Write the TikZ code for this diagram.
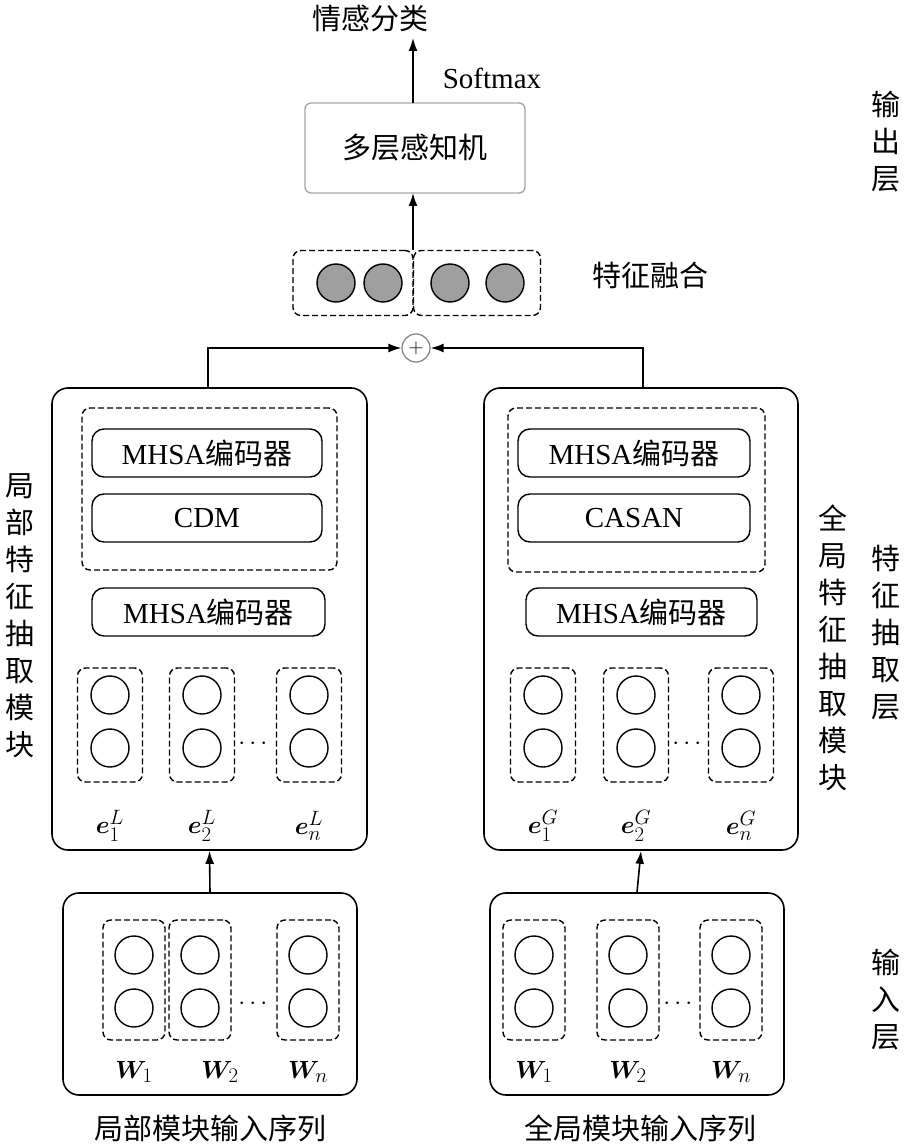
\documentclass[tikz,border=0pt]{standalone}
\usepackage{amsmath,bm}
\usepackage{fontspec}
\usetikzlibrary{arrows.meta}
\setmainfont{Liberation Serif}
\newfontfamily\cjk{Noto Sans CJK SC}
\begin{document}
\begin{tikzpicture}[x=1pt,y=-1pt,
  every node/.style={font=\fontsize{29}{34}\selectfont},
  modbox/.style={draw,rounded corners=16pt,line width=1.6pt},
  encbox/.style={draw,rounded corners=12pt,line width=1.4pt,minimum width=230pt,minimum height=48pt},
  grp/.style={draw,dash pattern=on 6pt off 3pt,rounded corners=8pt,line width=1.4pt},
  unit/.style={draw,circle,line width=1.4pt,minimum size=38pt,inner sep=0pt},
  fused/.style={unit,fill=gray!75},
  arr/.style={-{Latex[length=13pt,width=9pt]},line width=1.6pt}]
  \useasboundingbox (0,0) rectangle (908,1147);
  % output part
  \node (cls) at (370,18) {\cjk 情感分类};
  \node (mlp) [draw=gray!70,rounded corners=6pt,line width=1.4pt,minimum width=220pt,minimum height=90pt] at (415,148) {\cjk 多层感知机};
  \coordinate (mtop) at (413,103);
  \coordinate (mbot) at (413,193);
  \coordinate (ctop) at (413,38);
  \coordinate (ftop) at (413,250);
  \draw[arr] (mtop) -- (ctop);
  \node (soft) at (492,78) {Softmax};
  \node (ga) [grp,minimum width=120pt,minimum height=65pt] at (353,283) {};
  \node (gb) [grp,minimum width=127pt,minimum height=65pt] at (477,283) {};
  \foreach \x [count=\i] in {336,383,450,505} \node (f\i) [fused] at (\x,283) {};
  \draw[arr] (ftop) -- (mbot);
  \node (fuse) at (650,275) {\cjk 特征融合};
  \node (plus) [draw=gray,circle,line width=1.2pt,minimum size=28pt,inner sep=0pt,font=\fontsize{20}{20}\selectfont] at (416,348) {$+$};
  % extraction modules
  \node (lm) [modbox,minimum width=315pt,minimum height=462pt] at (209.5,619) {};
  \node (gm) [modbox,minimum width=314pt,minimum height=462pt] at (641,619) {};
  \draw[arr] (208,388) |- (plus.west);
  \draw[arr] (643,388) |- (plus.east);
  \node (ld) [grp,minimum width=255pt,minimum height=162pt] at (209.5,489) {};
  \node (gd) [grp,minimum width=257pt,minimum height=164pt] at (636.5,490) {};
  \node (l1) [encbox] at (207,453) {MHSA{\cjk 编码器}};
  \node (l2) [encbox] at (207,518) {CDM};
  \node (l3) [encbox,minimum width=233pt] at (208.5,612) {MHSA{\cjk 编码器}};
  \node (g1) [encbox,minimum width=232pt] at (634,453) {MHSA{\cjk 编码器}};
  \node (g2) [encbox,minimum width=232pt] at (634,518) {CASAN};
  \node (g3) [encbox,minimum width=231pt] at (641.5,612) {MHSA{\cjk 编码器}};
  \foreach \x/\s [count=\i] in {110/1,202/2,309/n} {
    \node (lc\i) [grp,minimum width=65pt,minimum height=114pt] at (\x,725) {};
    \node (lu\i) [unit] at (\x,695) {};
    \node (lv\i) [unit] at (\x,748) {};
    \node (le\i) at (\x,826) {$\bm{e}_{\s}^{L}$};
  }
  \foreach \x/\s [count=\i] in {543,636,741/n} {
    \node (gc\i) [grp,minimum width=65pt,minimum height=114pt] at (\x,725) {};
    \node (gu\i) [unit] at (\x,695) {};
    \node (gv\i) [unit] at (\x,748) {};
  }
  \node (ge1) at (543,826) {$\bm{e}_{1}^{G}$};
  \node (ge2) at (636,826) {$\bm{e}_{2}^{G}$};
  \node (ge3) at (741,826) {$\bm{e}_{n}^{G}$};
  \node (ldots) at (255,744) {$\cdots$};
  \node (gdots) at (689,744) {$\cdots$};
  % input layer
  \node (li) [modbox,minimum width=294pt,minimum height=202pt] at (210,994) {};
  \node (gi) [modbox,minimum width=294pt,minimum height=202pt] at (637,994) {};
  \draw[arr] (li.north) -- (lm.south);
  \draw[arr] (gi.north) -- (gm.south);
  \foreach \x/\s [count=\i] in {134/1,200/2,308/n} {
    \node (lw\i) [grp,minimum width=62pt,minimum height=120pt] at (\x,980) {};
    \node (lp\i) [unit] at (\x,955) {};
    \node (lq\i) [unit] at (\x,1008) {};
  }
  \node (lt1) at (134,1072) {$\bm{W}_{1}$};
  \node (lt2) at (220,1072) {$\bm{W}_{2}$};
  \node (lt3) at (308,1072) {$\bm{W}_{n}$};
  \foreach \x/\s [count=\i] in {534,628,731} {
    \node (gw\i) [grp,minimum width=62pt,minimum height=120pt] at (\x,980) {};
    \node (gp\i) [unit] at (\x,955) {};
    \node (gq\i) [unit] at (\x,1008) {};
  }
  \node (gt1) at (534,1072) {$\bm{W}_{1}$};
  \node (gt2) at (628,1072) {$\bm{W}_{2}$};
  \node (gt3) at (731,1072) {$\bm{W}_{n}$};
  \node (lidots) at (255,1004) {$\cdots$};
  \node (gidots) at (680,1004) {$\cdots$};
  \node (lseq) at (210,1128) {\cjk 局部模块输入序列};
  \node (gseq) at (640,1128) {\cjk 全局模块输入序列};
  % vertical captions
  \node (lcap) [align=center,inner sep=0pt,font=\fontsize{29}{37}\selectfont\cjk] at (20,616) {局\\部\\特\\征\\抽\\取\\模\\块};
  \node (gcap) [align=center,inner sep=0pt,font=\fontsize{29}{37}\selectfont\cjk] at (833,648) {全\\局\\特\\征\\抽\\取\\模\\块};
  \node (out) [align=center,inner sep=0pt,font=\fontsize{29}{37}\selectfont\cjk] at (886,142) {输\\出\\层};
  \node (mid) [align=center,inner sep=0pt,font=\fontsize{29}{37}\selectfont\cjk] at (886,633) {特\\征\\抽\\取\\层};
  \node (inp) [align=center,inner sep=0pt,font=\fontsize{29}{37}\selectfont\cjk] at (886,1000) {输\\入\\层};
\end{tikzpicture}
\end{document}
